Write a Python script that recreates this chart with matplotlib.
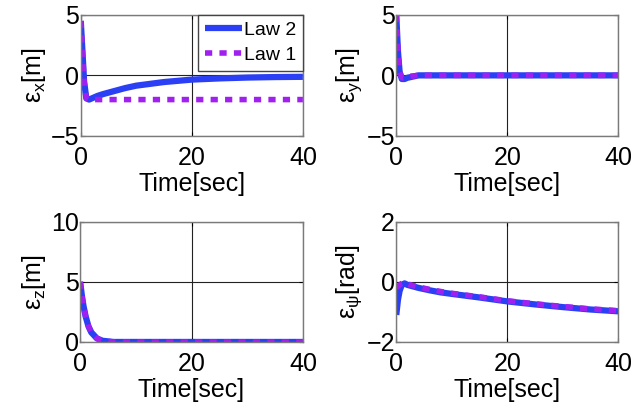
import matplotlib
matplotlib.use('Agg')
import matplotlib.pyplot as plt

plt.rcParams['font.family'] = ['Liberation Sans', 'DejaVu Sans']
plt.rcParams['mathtext.fontset'] = 'custom'
plt.rcParams['mathtext.rm'] = 'Liberation Sans'
plt.rcParams['mathtext.it'] = 'Liberation Sans'

# time samples [sec]
t = [0, 0.3, 0.6, 1, 1.5, 2, 3, 4, 6, 8, 10, 15, 20, 25, 30, 35, 40]

# position / heading errors
ex_law2 = [4.5, 2.0, -0.5, -1.9, -2.0, -1.9, -1.7, -1.55, -1.3, -1.05, -0.85, -0.55, -0.35, -0.25, -0.18, -0.14, -0.12]
ex_law1 = [4.5, 2.0, -0.5, -1.9, -2.0, -2.0, -2.0, -2.0, -2.0, -2.0, -2.0, -2.0, -2.0, -2.0, -2.0, -2.0, -2.0]
ey_law2 = [5.0, 2.0, 0.3, -0.3, -0.3, -0.2, -0.1, 0, 0, 0, 0, 0, 0, 0, 0, 0, 0]
ey_law1 = [5.0, 2.0, 0.3, -0.2, -0.2, -0.1, -0.05, 0, 0, 0, 0, 0, 0, 0, 0, 0, 0]
ez_law2 = [5.0, 3.9, 3.0, 2.1, 1.3, 0.8, 0.3, 0.1, 0, 0, 0, 0, 0, 0, 0, 0, 0]
ez_law1 = [5.0, 3.9, 3.0, 2.1, 1.3, 0.8, 0.3, 0.1, 0, 0, 0, 0, 0, 0, 0, 0, 0]
epsi_law2 = [-1.1, -0.6, -0.3, -0.1, -0.05, -0.1, -0.15, -0.2, -0.28, -0.35, -0.4, -0.52, -0.65, -0.75, -0.84, -0.92, -0.98]
epsi_law1 = [-0.2, -0.15, -0.1, -0.05, -0.02, -0.07, -0.12, -0.17, -0.25, -0.32, -0.38, -0.5, -0.63, -0.73, -0.82, -0.9, -0.96]

xticks = [0, 20, 40]
blue = '#2b40f5'
purple = '#a020f0'

fig = plt.figure(figsize=(6.31, 4.13), dpi=100)

panels = [
    ([0.128, 0.671, 0.352, 0.293], ex_law2, ex_law1, [-5, 0, 5], r'ε$_\mathrm{x}$[m]'),
    ([0.628, 0.671, 0.352, 0.293], ey_law2, ey_law1, [-5, 0, 5], r'ε$_\mathrm{y}$[m]'),
    ([0.127, 0.172, 0.353, 0.291], ez_law2, ez_law1, [0, 5, 10], r'ε$_\mathrm{z}$[m]'),
    ([0.628, 0.172, 0.352, 0.291], epsi_law2, epsi_law1, [-2, 0, 2], r'ε$_\psi$[rad]'),
]

axes = []
for rect, law2, law1, yticks, ylab in panels:
    ax = fig.add_axes(rect)
    ax.plot(t, law2, color=blue, lw=4.5, label='Law 2', solid_capstyle='butt')
    ax.plot(t, law1, color=purple, lw=4, ls=(0, (1.3, 1.3)), label='Law 1')
    ax.set_xlim(0, 40)
    ax.set_ylim(yticks[0], yticks[-1])
    ax.set_xticks(xticks)
    ax.set_yticks(yticks)
    ax.grid(True, color='#222222', lw=0.8)
    ax.tick_params(direction='in', length=3, labelsize=18, pad=1,
                   top=True, right=True)
    ax.tick_params(axis='x', pad=7)
    for s in ax.spines.values():
        s.set_color('#7a7a7a')
        s.set_linewidth(1.0)
    ax.set_xlabel('Time[sec]', fontsize=18, labelpad=1.5)
    ax.set_ylabel(ylab, fontsize=18, labelpad=2)
    axes.append(ax)

leg = axes[0].legend(loc='upper right', fontsize=14, borderaxespad=0,
                     handlelength=1.9, handletextpad=0.1, borderpad=0.35,
                     labelspacing=0.35, fancybox=False, framealpha=1)
leg.get_frame().set_edgecolor('#444444')

fig.savefig('out.png', dpi=100)
